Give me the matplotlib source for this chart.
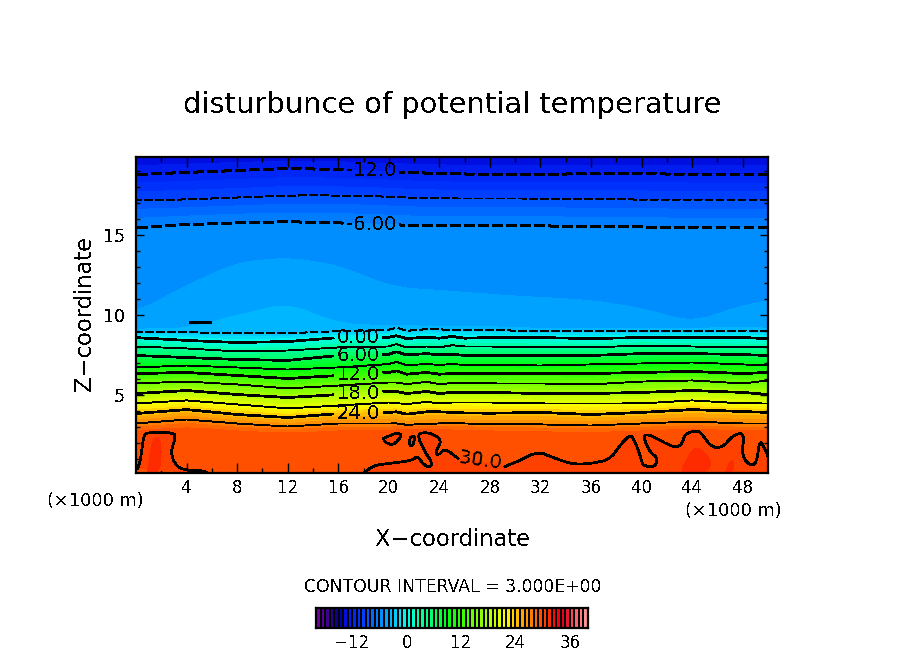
import numpy as np
import matplotlib
matplotlib.use("Agg")
import matplotlib.pyplot as plt
from matplotlib.colors import LinearSegmentedColormap, ListedColormap, BoundaryNorm

plt.rcParams['font.family'] = ['DejaVu Sans']
plt.rcParams['text.antialiased'] = False

W, H = 904, 654

# x stations (x1000 m) where contour heights were read
x_st = [0, 4, 8, 12, 16, 20, 20.6, 21.4, 23, 24, 25, 26, 28, 32, 36, 40, 44, 48, 50]
# heights (z, x1000 m) of each isotherm at the x stations
z_m14 = [20.0] * 19
z_m13 = [19.3, 19.4, 19.5, 19.6, 19.55, 19.45, 19.4, 19.4, 19.38, 19.35, 19.33, 19.32, 19.3, 19.3, 19.33, 19.33, 19.3, 19.3, 19.3]
z_m12 = [18.75, 18.88, 19.0, 19.13, 19.06, 18.94, 18.88, 18.88, 18.84, 18.81, 18.8, 18.78, 18.75, 18.75, 18.81, 18.81, 18.75, 18.75, 18.75]
z_m9 = [17.13, 17.19, 17.31, 17.44, 17.44, 17.38, 17.31, 17.31, 17.28, 17.25, 17.25, 17.25, 17.25, 17.25, 17.19, 17.19, 17.13, 17.13, 17.13]
z_m6 = [15.44, 15.63, 15.75, 15.81, 15.75, 15.63, 15.63, 15.56, 15.56, 15.56, 15.56, 15.56, 15.56, 15.56, 15.5, 15.5, 15.44, 15.44, 15.44]
z_m5 = [10.13, 11.81, 13.25, 13.56, 13.06, 11.81, 11.69, 11.63, 11.56, 11.5, 11.44, 11.38, 11.25, 11.06, 10.88, 10.38, 9.5, 10.56, 10.88]
z_m4 = [9.06, 9.13, 9.94, 10.69, 9.44, 9.25, 9.35, 9.2, 9.28, 9.28, 9.2, 9.22, 9.22, 9.13, 9.13, 9.13, 9.13, 9.19, 9.13]
z_m3 = [8.88, 8.88, 8.81, 8.81, 8.94, 9.04, 9.19, 8.98, 9.08, 9.08, 9.0, 9.04, 9.04, 8.94, 8.94, 8.94, 8.94, 9.0, 8.94]
z_0 = [8.56, 8.38, 8.25, 8.31, 8.56, 8.58, 8.67, 8.5, 8.58, 8.52, 8.63, 8.52, 8.56, 8.56, 8.5, 8.56, 8.56, 8.56, 8.5]
z_3 = [8.0, 7.88, 7.69, 7.75, 7.94, 8.0, 8.15, 7.94, 8.0, 7.94, 8.08, 8.0, 8.0, 7.94, 7.94, 8.06, 8.0, 7.94, 7.94]
z_6 = [7.44, 7.31, 7.19, 7.13, 7.44, 7.52, 7.67, 7.48, 7.56, 7.48, 7.52, 7.44, 7.46, 7.44, 7.44, 7.56, 7.56, 7.5, 7.44]
z_9 = [6.69, 6.81, 6.69, 6.56, 6.69, 6.9, 7.04, 6.83, 6.9, 6.85, 6.9, 6.85, 6.85, 6.81, 6.88, 6.94, 7.0, 6.88, 6.81]
z_12 = [6.31, 6.38, 6.19, 6.0, 6.19, 6.38, 6.48, 6.27, 6.38, 6.27, 6.31, 6.31, 6.31, 6.31, 6.31, 6.38, 6.44, 6.31, 6.38]
z_15 = [5.69, 5.81, 5.63, 5.38, 5.56, 5.75, 5.75, 5.65, 5.79, 5.65, 5.71, 5.69, 5.69, 5.69, 5.63, 5.81, 5.88, 5.69, 5.88]
z_18 = [5.06, 5.25, 5.0, 4.81, 5.0, 5.19, 5.19, 5.06, 5.19, 5.06, 5.13, 5.13, 5.13, 5.06, 5.06, 5.13, 5.25, 5.13, 5.0]
z_21 = [4.44, 4.63, 4.38, 4.13, 4.31, 4.5, 4.46, 4.4, 4.54, 4.44, 4.5, 4.5, 4.5, 4.44, 4.44, 4.44, 4.63, 4.44, 4.44]
z_24 = [3.81, 4.06, 3.75, 3.56, 3.81, 3.88, 3.92, 3.77, 3.92, 3.92, 3.88, 3.85, 3.83, 3.88, 3.75, 3.88, 4.06, 3.94, 3.88]
z_27 = [3.19, 3.44, 3.19, 3.0, 3.19, 3.19, 3.19, 3.1, 3.15, 3.19, 3.25, 3.19, 3.15, 3.13, 3.06, 3.19, 3.31, 3.19, 3.19]
z_28 = [2.95, 3.2, 2.95, 2.8, 2.95, 2.95, 3.0, 3.0, 3.0, 3.0, 3.0, 2.98, 2.95, 2.9, 2.85, 2.95, 3.05, 2.95, 2.95]
z_29 = [2.75, 2.95, 2.75, 2.6, 2.75, 2.75, 2.8, 2.8, 2.8, 2.8, 2.8, 2.78, 2.75, 2.7, 2.65, 2.75, 2.85, 2.75, 2.75]
z_sfc = [0.0] * 19

isotherms = [29.6, 29, 28, 27, 24, 21, 18, 15, 12, 9, 6, 3, 0, -3, -4, -5, -6, -9, -12, -13, -14]
iso_heights = [z_sfc, z_29, z_28, z_27, z_24, z_21, z_18, z_15, z_12, z_9, z_6, z_3, z_0,
               z_m3, z_m4, z_m5, z_m6, z_m9, z_m12, z_m13, z_m14]
smooth_isotherms = [-4, -5, -6, -9, -12, -13]

# the 30 K isotherm near the ground, traced
c30_left_x = [.13, .36, .6, .92, 2.97, 3.13, 2.73, 3.13, 3.92, 5.26, 5.73]
c30_left_z = [.38, .88, 2.44, 2.63, 2.63, 2.31, 1.38, .56, .25, .25, .06]
c30_a_x = [17.98, 18.77, 19.95, 21.93, 22.25, 22.72, 23.27, 23.43, 22.87, 22.25, 22.64, 23.43, 24.22, 23.66, 23.9, 24.45, 25.48]
c30_a_z = [.06, .56, .69, .88, 1.19, .63, .44, .75, 1.38, 2.44, 2.63, 2.56, 2.13, 1.38, 1.19, 1.63, 1.0]
c30_b_x = [29.2, 30.38, 31.8, 32.99, 34.57, 36.07, 37.49, 38.28, 39.07, 39.46, 40.01, 40.09, 41.04, 41.28, 40.65, 40.09, 40.65,
           42.47, 43.18, 43.41, 44.36, 44.75, 45.54, 46.41, 47.2, 48.15, 47.91, 48.55, 49.1, 49.34, 49.89, 50.0]
c30_b_z = [.5, .88, 1.44, 1.06, .63, .69, .94, 1.81, 2.5, 2.13, .88, .56, .44, 1.06, 1.38, 2.44, 2.5,
           1.69, 1.81, 2.56, 2.75, 2.56, 1.69, 1.69, 2.44, 2.63, 1.19, .56, .69, 2.25, 1.38, 1.1]
c30_loop1_x = [19.56, 20.66, 21.06, 20.35, 19.72, 19.56]
c30_loop1_z = [2.25, 2.63, 2.44, 1.81, 2.0, 2.25]
c30_loop2_x = [21.69, 22.09, 21.93, 21.61, 21.69]
c30_loop2_z = [2.31, 2.44, 1.81, 1.81, 2.31]
# warmer patches (31 K)
p31_a_x = [43.25, 44.25, 45.6, 45.25, 43.25]
p31_a_z = [.44, 1.94, .88, .12, .12]
p31_b_x = [46.6, 47.15, 47.35, 46.6]
p31_b_z = [.12, 1.06, .25, .12]
p31_c_x = [.9, 1.3, 2.0, 1.95, .9]
p31_c_z = [.12, 2.3, 2.3, .12, .12]
small_x = [4.3, 5.9]
small_z = [9.5, 9.48]

color_T = [-20, -17, -15, -13.5, -10, -8, -6, -5, -4, -3, 0, 3, 6, 9, 12, 15, 18, 21, 22, 24, 27, 29, 31, 33, 35, 37, 40]
color_hex = ['#7a00a0', '#30008a', '#000090', '#0010e8', '#0038ff', '#0060ff', '#0088ff', '#0098ff', '#00aaff', '#00c4ff',
             '#00ffee', '#00ffa0', '#00ff60', '#00ff10', '#30ff00', '#70ff00', '#a8ff00', '#e8ff00', '#ffff00', '#ffc400',
             '#ff8800', '#ff5a00', '#ff3a00', '#ff0000', '#e00020', '#ff5060', '#ffa0a0']
bar_ticks = [-12, 0, 12, 24, 36]
x_ticks = [4, 8, 12, 16, 20, 24, 28, 32, 36, 40, 44, 48]
z_ticks = [5, 10, 15]
line_levels = [-12, -9, -6, -3, 0, 3, 6, 9, 12, 15, 18, 21, 24, 27]
label_fmt = {-12: '-12.0', -9: '', -6: '-6.00', -3: '', 0: '0.00', 3: '', 6: '6.00', 9: '', 12: '12.0', 15: '',
             18: '18.0', 21: '', 24: '24.0', 27: ''}
label_pos = [(18.6, 18.9), (18.6, 15.62), (17.6, 8.55), (17.6, 7.35), (17.6, 6.2), (17.6, 5.05), (17.6, 3.82)]

fill_levels = np.arange(-20, 41)
span = color_T[-1] - color_T[0]
base = LinearSegmentedColormap.from_list('gr', [((t - color_T[0]) / span, c) for t, c in zip(color_T, color_hex)])
cols = [base((l + 0.5 - color_T[0]) / span) for l in fill_levels[:-1]]
cmap = ListedColormap(cols)
norm = BoundaryNorm(fill_levels, cmap.N)


def smooth(x, z, n=2):
    p = np.column_stack([x, z])
    for _ in range(n):
        a = .75 * p[:-1] + .25 * p[1:]
        b = .25 * p[:-1] + .75 * p[1:]
        q = np.empty((2 * len(a), 2))
        q[0::2] = a
        q[1::2] = b
        p = np.vstack([p[:1], q, p[-1:]])
    return p[:, 0], p[:, 1]


xg = np.linspace(0, 50, 633)
zg = np.linspace(0, 20, 401)
heights = np.array([np.interp(xg, x_st, h) for h in iso_heights])
win = 41
for i, t in enumerate(isotherms):
    if t in smooth_isotherms:
        pad = np.pad(heights[i], win // 2, mode='edge')
        heights[i] = np.convolve(pad, np.ones(win) / win, mode='valid')
i_m3, i_m4 = isotherms.index(-3), isotherms.index(-4)
heights[i_m4] = np.maximum(heights[i_m4], heights[i_m3] + 0.06)
T = np.empty((len(zg), len(xg)))
for j in range(len(xg)):
    T[:, j] = np.interp(zg, heights[:, j], isotherms)

fig = plt.figure(figsize=(W / 100, H / 100), dpi=100, facecolor='white')
ax = fig.add_axes([136 / W, 1 - 472.5 / H, 632 / W, 316 / H])
ax.contourf(xg, zg, T, levels=fill_levels, cmap=cmap, norm=norm, antialiased=False)

c30 = cmap(norm(30.5))
c31 = cmap(norm(31.5))
ls_, zs_ = smooth(c30_left_x, c30_left_z)
ax.fill(ls_, zs_, color=c30, lw=0, zorder=2, antialiased=False)
ax_, az_ = smooth(c30_a_x, c30_a_z)
bx_, bz_ = smooth(c30_b_x, c30_b_z)
ax.fill(np.r_[ax_, bx_, 50, 18], np.r_[az_, bz_, 0, 0], color=c30, lw=0, zorder=2, antialiased=False)
for px, pz in [(c30_loop1_x, c30_loop1_z), (c30_loop2_x, c30_loop2_z)]:
    ax.fill(px, pz, color=c30, lw=0, zorder=2, antialiased=False)
for px, pz in [(p31_a_x, p31_a_z), (p31_b_x, p31_b_z), (p31_c_x, p31_c_z)]:
    sx, sz = smooth(px, pz)
    ax.fill(sx, sz, color=c31, lw=0, zorder=2.1, antialiased=False)

lws = [1.25 if l % 6 == 0 else 0.65 for l in line_levels]
lss = []
for l in line_levels:
    if l < 0:
        lss.append((0, (5.5, 2.8)) if l % 6 == 0 else (0, (8.0, 4.0)))
    else:
        lss.append('solid')
cs = ax.contour(xg, zg, T, levels=line_levels, colors='k', linewidths=lws, linestyles=lss, antialiased=False, zorder=3)
labs = ax.clabel(cs, fmt=label_fmt, manual=label_pos, inline=True, inline_spacing=3, fontsize=14, colors='k')
for t in labs:
    t.set_rotation(0)
    t.set_zorder(6)

for px, pz in [(c30_left_x, c30_left_z), (c30_a_x, c30_a_z), (c30_b_x, c30_b_z), (c30_loop1_x, c30_loop1_z), (c30_loop2_x, c30_loop2_z)]:
    sx, sz = smooth(px, pz)
    ax.plot(sx, sz, color='k', lw=1.25, antialiased=False, zorder=4)
ax.plot(small_x, small_z, color='k', lw=1.25, antialiased=False, zorder=4)
ax.text(27.3, 0.9, '30.0', fontsize=14, ha='center', va='center', rotation=-8, zorder=6)

ax.set_xlim(0, 50)
ax.set_ylim(0.125, 19.875)
ax.set_xticks(x_ticks)
ax.set_xticks(np.arange(2, 50, 4), minor=True)
ax.set_yticks(z_ticks)
ax.set_yticks([v for v in range(1, 20) if v % 5], minor=True)
ax.tick_params(which='major', axis='x', direction='in', top=True, bottom=True, length=7.2, width=1, labelsize=12, pad=5)
ax.tick_params(which='minor', axis='x', direction='in', top=True, bottom=True, length=3.6, width=1)
ax.tick_params(which='major', axis='y', direction='in', left=True, right=True, length=6, width=1, labelsize=12.5, pad=8)
ax.tick_params(which='minor', axis='y', direction='in', left=True, right=True, length=3, width=1)
for s in ax.spines.values():
    s.set_linewidth(1.6)
    s.set_zorder(10)


def ftext(px, py, s, **kw):
    fig.text(px / W, 1 - py / H, s, ha=kw.pop('ha', 'center'), va='center', **kw)


ftext(452.5, 105, 'disturbunce of potential temperature', fontsize=20.8)
ftext(452.5, 540, 'X\u2212coordinate', fontsize=16.3)
ftext(84, 313, 'Z\u2212coordinate', fontsize=16.3, rotation=90)
ftext(95.5, 501, '(\u00d71000 m)', fontsize=12.8)
ftext(733, 511, '(\u00d71000 m)', fontsize=12.8)
ftext(452.5, 586.5, 'CONTOUR INTERVAL = 3.000E+00', fontsize=12.4)

cax = fig.add_axes([316 / W, 1 - 627.5 / H, 272 / W, 20 / H])
cax.pcolormesh(fill_levels, [0, 1], np.array([fill_levels[:-1] + 0.5]), cmap=cmap, norm=norm, edgecolors='none', antialiased=False)
cax.vlines(fill_levels, 0, 1, colors='k', lw=1.1, antialiased=False)
cax.set_xlim(-20, 40)
cax.set_ylim(0, 1)
cax.set_yticks([])
cax.set_xticks(bar_ticks)
cax.set_xticklabels(['\u221212', '0', '12', '24', '36'])
cax.tick_params(axis='x', length=0, labelsize=12, pad=5)
for s in cax.spines.values():
    s.set_linewidth(1.6)

fig.savefig('out.png', dpi=100)
